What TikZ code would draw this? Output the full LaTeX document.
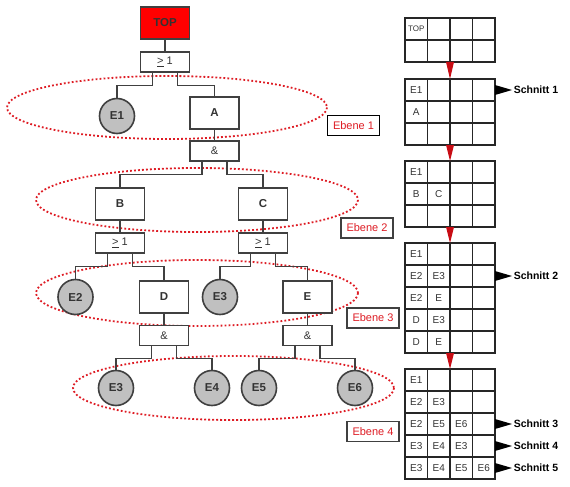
\documentclass[tikz,border=0pt]{standalone}
\usepackage{fontspec}
\setmainfont{Liberation Sans}
\usetikzlibrary{calc}
\definecolor{ebred}{RGB}{222,28,36}
\definecolor{topred}{RGB}{255,0,0}
\definecolor{arrred}{RGB}{200,12,20}
\definecolor{edge}{RGB}{64,64,64}
\definecolor{ink}{RGB}{51,51,51}
\definecolor{evgray}{RGB}{192,192,192}

\begin{document}
\begin{tikzpicture}[x=1pt, y=-1pt, line width=1.6pt, font=\fontsize{11}{13}\selectfont,
    ev/.style={draw=edge, fill=white, minimum width=49pt, minimum height=32pt, inner sep=0pt, text=ink, font=\fontsize{11.5}{13}\selectfont\bfseries},
    gate/.style={draw=edge, fill=white, minimum width=49pt, minimum height=20pt, inner sep=0pt, text=ink},
    basic/.style={draw=edge, circle, fill=evgray, minimum size=35pt, inner sep=0pt, text=ink, font=\fontsize{11.5}{13}\selectfont\bfseries},
    wire/.style={draw=edge, line width=1.3pt},
    level/.style={draw=ebred, dash pattern=on 1.8pt off 2.2pt, line width=1.8pt},
    ebene/.style={draw=edge, fill=white, minimum width=52pt, minimum height=20pt, inner sep=0pt, text=ebred},
    tabline/.style={draw=black!85, line width=1.4pt},
    cell/.style={inner sep=0pt, text=ink, font=\fontsize{10}{12}\selectfont},
    cut/.style={anchor=west, inner sep=0pt, font=\fontsize{10.5}{12}\selectfont\bfseries}]
  \newcommand{\tabgrid}[3]{% name, top edge, rows
    \node[draw=black!85, line width=1.4pt, outer sep=0pt, inner sep=0pt, minimum width=90pt, minimum height=#3*22pt] (#1) at (450,#2+#3*11) {};
    \foreach \c in {1,2,3} \draw[tabline] (405+\c*22.5,#2) -- (405+\c*22.5,#2+#3*22);
    \foreach \r in {1,...,#3} \draw[tabline] (405,#2+\r*22) -- (495,#2+\r*22);}
  \useasboundingbox (0,0) rectangle (570,487);

  % levels
  \draw[level] (167,107.5) ellipse [x radius=160, y radius=31.5];
  \draw[level] (197,200) ellipse [x radius=161, y radius=32];
  \draw[level] (197,293) ellipse [x radius=161, y radius=33];
  \draw[level] (233.5,388) ellipse [x radius=160.5, y radius=32];

  % fault tree
  \node[ev, fill=topred] (TOP) at (165,23) {TOP};
  \node[gate] (or1) at (165,62) {\underline{>} 1};
  \node[basic] (E1) at (117,116) {E1};
  \node[ev] (A) at (214.5,113) {A};
  \node[gate] (and1) at (214.5,151) {\&};
  \node[ev] (B) at (120,204) {B};
  \node[ev] (C) at (263,204) {C};
  \node[gate] (orB) at (120,243) {\underline{>} 1};
  \node[gate] (orC) at (263,243) {\underline{>} 1};
  \node[basic] (E2) at (75.5,297) {E2};
  \node[ev] (D) at (164,297) {D};
  \node[basic] (E3a) at (220,297) {E3};
  \node[ev] (E) at (307.5,297) {E};
  \node[gate] (andD) at (164,335.5) {\&};
  \node[gate] (andE) at (307.5,335.5) {\&};
  \node[basic] (E3b) at (116,388) {E3};
  \node[basic] (E4) at (212,388) {E4};
  \node[basic] (E5) at (259,388) {E5};
  \node[basic] (E6) at (355,388) {E6};

  \draw[wire] (TOP) -- (or1);
  \draw[wire] ([xshift=-12.5pt]or1.south) -- ++(0,12.5) -| (E1.north);
  \draw[wire] ([xshift=12.5pt]or1.south) -- ++(0,12.5) -| (A.north);
  \draw[wire] (A) -- (and1);
  \draw[wire] ([xshift=-12.5pt]and1.south) -- ++(0,12.5) -| (B.north);
  \draw[wire] ([xshift=12.5pt]and1.south) -- ++(0,12.5) -| (C.north);
  \draw[wire] (B) -- (orB);
  \draw[wire] (C) -- (orC);
  \draw[wire] ([xshift=-12.5pt]orB.south) -- ++(0,12.5) -| (E2.north);
  \draw[wire] ([xshift=12.5pt]orB.south) -- ++(0,12.5) -| (D.north);
  \draw[wire] ([xshift=-12.5pt]orC.south) -- ++(0,12.5) -| (E3a.north);
  \draw[wire] ([xshift=12.5pt]orC.south) -- ++(0,12.5) -| (E.north);
  \draw[wire] (D) -- (andD);
  \draw[wire] (E) -- (andE);
  \draw[wire] ([xshift=-12.5pt]andD.south) -- ++(0,12.5) -| (E3b.north);
  \draw[wire] ([xshift=12.5pt]andD.south) -- ++(0,12.5) -| (E4.north);
  \draw[wire] ([xshift=-12.5pt]andE.south) -- ++(0,12.5) -| (E5.north);
  \draw[wire] ([xshift=12.5pt]andE.south) -- ++(0,12.5) -| (E6.north);

  \node[ebene, draw=black, line width=1.9pt] (L1) at (353.5,125.5) {Ebene 1};
  \node[ebene] (L2) at (367,228) {Ebene 2};
  \node[ebene] (L3) at (373,318) {Ebene 3};
  \node[ebene] (L4) at (373,431.5) {Ebene 4};

  % cut set tables
  \tabgrid{T1}{18}{2}
  \tabgrid{T2}{79}{3}
  \tabgrid{T3}{161}{3}
  \tabgrid{T4}{243}{5}
  \tabgrid{T5}{369}{5}
  \node[cell, font=\fontsize{8}{10}\selectfont] (T1-1-1) at ($(T1.north west)+(11.25,10.5)$) {TOP};
  \foreach \tab/\r/\c/\txt in {T2/1/1/E1, T2/2/1/A,
      T3/1/1/E1, T3/2/1/B, T3/2/2/C,
      T4/1/1/E1, T4/2/1/E2, T4/2/2/E3, T4/3/1/E2, T4/3/2/E, T4/4/1/D, T4/4/2/E3, T4/5/1/D, T4/5/2/E,
      T5/1/1/E1, T5/2/1/E2, T5/2/2/E3, T5/3/1/E2, T5/3/2/E5, T5/3/3/E6,
      T5/4/1/E3, T5/4/2/E4, T5/4/3/E3, T5/5/1/E3, T5/5/2/E4, T5/5/3/E5, T5/5/4/E6}
    \node[cell] (\tab-\r-\c) at ($(\tab.north west)+(22.5*\c-11.25,22*\r-11)$) {\txt};

  \foreach \a/\b in {T1/T2, T2/T3, T3/T4, T4/T5}
    \fill[arrred] ([xshift=-4pt]\a.south) -- ([xshift=4pt]\a.south) -- (\b.north) -- cycle;

  \node[cut] (S1) at (513,90) {Schnitt 1};
  \node[cut] (S2) at (513,276) {Schnitt 2};
  \node[cut] (S3) at (513,424) {Schnitt 3};
  \node[cut] (S4) at (513,446) {Schnitt 4};
  \node[cut] (S5) at (513,468) {Schnitt 5};
  \foreach \s in {S1,S2,S3,S4,S5}
    \fill ([xshift=-18pt,yshift=5pt]\s.west) -- ([xshift=-1pt]\s.west) -- ([xshift=-18pt,yshift=-5pt]\s.west) -- cycle;
\end{tikzpicture}
\end{document}
